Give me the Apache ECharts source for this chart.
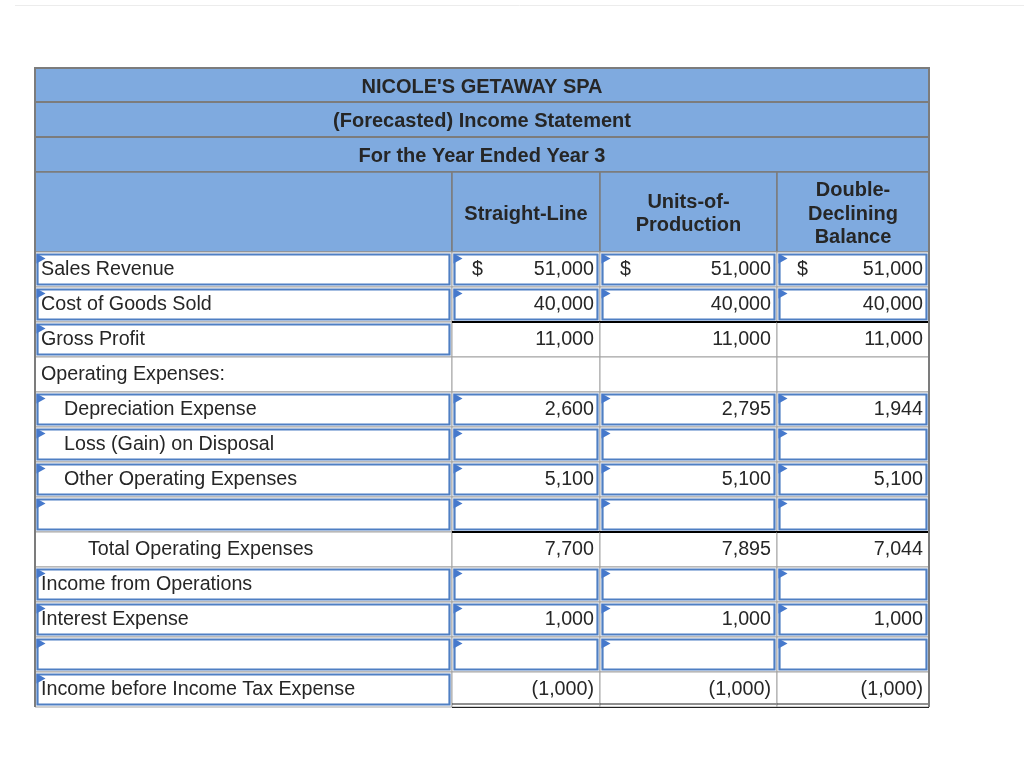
<!DOCTYPE html>
<html>
<head>
<meta charset="utf-8">
<title>Nicole's Getaway Spa</title>
<script src="https://cdn.jsdelivr.net/npm/echarts@6/dist/echarts.min.js"></script>
<style>
    html, body { margin: 0; padding: 0; background: #fff; }
    #main { width: 1024px; height: 760px; }
</style>
</head>
<body>
<div id="main"></div>
<script>
const titleLines = ["NICOLE'S GETAWAY SPA", '(Forecasted) Income Statement', 'For the Year Ended Year 3'];
const methods = ['Straight-Line', 'Units-of-\nProduction', 'Double-\nDeclining\nBalance'];
const rowLabels = [
    'Sales Revenue',
    'Cost of Goods Sold',
    'Gross Profit',
    'Operating Expenses:',
    'Depreciation Expense',
    'Loss (Gain) on Disposal',
    'Other Operating Expenses',
    '',
    'Total Operating Expenses',
    'Income from Operations',
    'Interest Expense',
    '',
    'Income before Income Tax Expense'
];
const straightLine      = [51000, 40000, 11000, null, 2600, null, 5100, null, 7700, null, 1000, null, -1000];
const unitsOfProduction = [51000, 40000, 11000, null, 2795, null, 5100, null, 7895, null, 1000, null, -1000];
const doubleDeclining   = [51000, 40000, 11000, null, 1944, null, 5100, null, 7044, null, 1000, null, -1000];

// which cells are entry boxes (blue frame + marker)
const labelInput = [1, 1, 1, 0, 1, 1, 1, 1, 0, 1, 1, 1, 1];
const valueInput = [1, 1, 0, 0, 1, 1, 1, 1, 0, 1, 1, 1, 0];
const indentLevel = [0, 0, 0, 0, 1, 1, 1, 1, 2, 0, 0, 0, 0];
const totalRows = [2, 8];   // rule above the value cells
const finalRow = 12;        // double rule below

// layout: x axis in px of table width, y axis in body-row units
const colEdges = [0, 417, 565, 742, 894];
const headEdges = [-5.257, -4.286, -3.286, -2.286, 0];
const indentPx = [6, 29, 53];

const HEAD = '#7faadf';
const GRID = '#a3a3a3';
const HEAD_LINE = '#7c7c7c';
const BOX = '#4f7fc3';
const MARK = '#4679cc';
const INK = '#262626';
const FONT = '19.7px "Liberation Sans", Arial, sans-serif';
const BOLD = 'bold 20px "Liberation Sans", Arial, sans-serif';

const columns = [straightLine, unitsOfProduction, doubleDeclining];

let cells = [];
titleLines.forEach((t, i) => {
    cells.push({ kind: 'title', c0: 0, c1: 4, r0: headEdges[i], r1: headEdges[i + 1], text: t });
});
cells.push({ kind: 'colhead', c0: 0, c1: 1, r0: headEdges[3], r1: 0, text: '' });
methods.forEach((m, i) => {
    cells.push({ kind: 'colhead', c0: i + 1, c1: i + 2, r0: headEdges[3], r1: 0, text: m });
});
rowLabels.forEach((lab, r) => {
    cells.push({ kind: 'label', c0: 0, c1: 1, r0: r, r1: r + 1, text: lab, input: labelInput[r], indent: indentLevel[r] });
    columns.forEach((vals, i) => {
        cells.push({
            kind: 'value', c0: i + 1, c1: i + 2, r0: r, r1: r + 1, v: vals[r],
            input: valueInput[r], dollar: r === 0,
            total: totalRows.indexOf(r) >= 0, final: r === finalRow
        });
    });
});
cells.push({ kind: 'frame', c0: 0, c1: 4, r0: headEdges[0], r1: rowLabels.length });

function fmt(v) {
    if (v === null || v === undefined) return '';
    let s = Math.abs(v).toLocaleString('en-US');
    return v < 0 ? '(' + s + ')' : s;
}

function txt(text, x, y, align, font) {
    return {
        type: 'text',
        style: {
            text: text, x: x, y: y, fill: INK, font: font,
            align: align, verticalAlign: 'middle',
            textAlign: align, textVerticalAlign: 'middle',
            lineHeight: 23.5
        }
    };
}

function renderItem(params, api) {
    let cell = cells[params.dataIndex];
    let p0 = api.coord([colEdges[cell.c0], cell.r0]);
    let p1 = api.coord([colEdges[cell.c1], cell.r1]);
    let x = p0[0], y = p0[1], w = p1[0] - p0[0], h = p1[1] - p0[1];
    let cy = y + h / 2;
    let children = [];

    if (cell.kind === 'frame') {
        children.push({ type: 'line', shape: { x1: x, y1: y, x2: x, y2: y + h }, style: { stroke: HEAD_LINE, lineWidth: 2 } });
        children.push({ type: 'line', shape: { x1: x + w, y1: y, x2: x + w, y2: y + h }, style: { stroke: HEAD_LINE, lineWidth: 2 } });
        children.push({ type: 'line', shape: { x1: x, y1: y, x2: x + w, y2: y }, style: { stroke: HEAD_LINE, lineWidth: 2 } });
        return { type: 'group', children: children };
    }

    if (cell.kind === 'title' || cell.kind === 'colhead') {
        children.push({ type: 'rect', shape: { x: x, y: y, width: w, height: h }, style: { fill: HEAD, stroke: HEAD_LINE, lineWidth: cell.kind === 'title' ? 2 : 1.5 } });
        if (cell.text) children.push(txt(cell.text, x + w / 2, cy + 2, 'center', BOLD));
        return { type: 'group', children: children };
    }

    children.push({ type: 'rect', shape: { x: x, y: y, width: w, height: h }, style: { fill: '#fff', stroke: GRID, lineWidth: 1 } });
    if (cell.input) {
        children.push({ type: 'rect', shape: { x: x + 2.5, y: y + 2.5, width: w - 5, height: h - 5 }, style: { fill: '#fff', stroke: BOX, lineWidth: 2.2 } });
        children.push({ type: 'polygon', shape: { points: [[x + 1.5, y + 1.5], [x + 10.5, y + 6.5], [x + 1.5, y + 11.5]] }, style: { fill: MARK } });
    }

    if (cell.kind === 'label') {
        if (cell.text) children.push(txt(cell.text, x + indentPx[cell.indent], cy, 'left', FONT));
    } else {
        if (cell.dollar) children.push(txt('$', x + 20, cy, 'left', FONT));
        let s = fmt(cell.v);
        if (s) children.push(txt(s, x + w - 6, cy, 'right', FONT));
        if (cell.total) {
            children.push({ type: 'line', shape: { x1: x, y1: y, x2: x + w, y2: y }, style: { stroke: '#000', lineWidth: 2 } });
        }
        if (cell.final) {
            children.push({ type: 'line', shape: { x1: x, y1: y + h - 3, x2: x + w, y2: y + h - 3 }, style: { stroke: '#222', lineWidth: 1.2 } });
            children.push({ type: 'line', shape: { x1: x, y1: y + h + 0.5, x2: x + w, y2: y + h + 0.5 }, style: { stroke: '#222', lineWidth: 1.2 } });
        }
    }
    return { type: 'group', children: children };
}

let chart = echarts.init(document.getElementById('main'));
chart.setOption({
    animation: false,
    backgroundColor: '#fff',
    grid: { left: 35, right: 95, top: 68, bottom: 53 },
    xAxis: { type: 'value', min: 0, max: colEdges[colEdges.length - 1], show: false },
    yAxis: { type: 'value', min: headEdges[0], max: rowLabels.length, inverse: true, show: false },
    graphic: [{
        type: 'line', silent: true,
        shape: { x1: 15, y1: 5.5, x2: 1024, y2: 5.5 },
        style: { stroke: '#ececec', lineWidth: 1 }
    }],
    series: [{
        type: 'custom',
        clip: false,
        renderItem: renderItem,
        data: cells.map(c => [colEdges[c.c0], c.r0])
    }]
});
</script>
</body>
</html>
